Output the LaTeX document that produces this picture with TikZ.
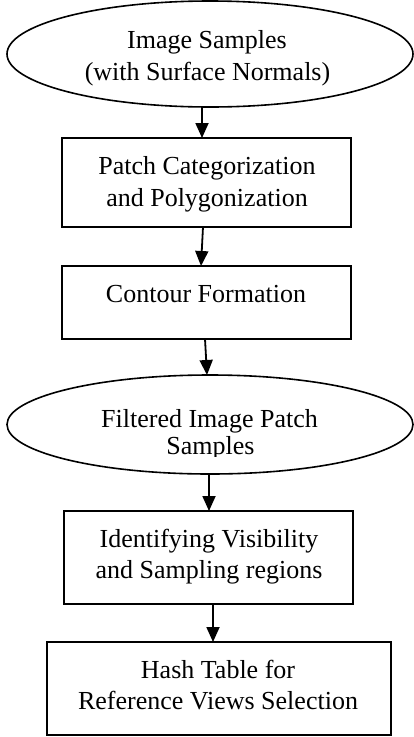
\documentclass[tikz,border=0pt]{standalone}
\usepackage{fontspec}
\setmainfont{Liberation Serif}
\usetikzlibrary{shapes.geometric,arrows.meta}

\tikzset{
  stage/.style={draw, line width=1.8pt, rectangle, inner sep=0pt, outer sep=0pt},
  datum/.style={draw, line width=1.6pt, ellipse, inner sep=0pt, outer sep=0pt},
  txt/.style={anchor=base, inner sep=0pt, font=\fontsize{26}{32}\selectfont},
  flow/.style={line width=1.8pt, -{Triangle[width=13pt,length=15pt]}}
}

\begin{document}
\begin{tikzpicture}[x=1pt, y=-1pt]
  \useasboundingbox (0,0) rectangle (414,737);

  % shapes of the pipeline
  \node[datum, minimum width=406pt, minimum height=106pt] (e1) at (210,54) {};
  \node[stage, minimum width=289pt, minimum height=89pt] (b1) at (206.5,182.5) {};
  \node[stage, minimum width=289pt, minimum height=73pt] (b2) at (206.5,302.5) {};
  \node[datum, minimum width=406pt, minimum height=99pt] (e2) at (210,424.5) {};
  \node[stage, minimum width=289pt, minimum height=93pt] (b3) at (208.5,557.5) {};
  \node[stage, minimum width=344pt, minimum height=93pt] (b4) at (219,688.5) {};

  % labels
  \node[txt] (e1a) at (207,48) {Image Samples};
  \node[txt] (e1b) at (207.5,80) {(with Surface Normals)};
  \node[txt] (b1a) at (207,174) {Patch Categorization};
  \node[txt] (b1b) at (207,206) {and Polygonization};
  \node[txt] (b2a) at (206,302) {Contour Formation};
  \begin{scope}
    \clip (7,380) rectangle (413,456);
    \node[txt] (e2a) at (209.5,427) {Filtered Image Patch};
    \node[txt] (e2b) at (210.5,454) {Samples};
  \end{scope}
  \node[txt] (b3a) at (209,547) {Identifying Visibility};
  \node[txt] (b3b) at (209,578) {and Sampling regions};
  \node[txt] (b4a) at (218,678) {Hash Table for};
  \node[txt] (b4b) at (218,709) {Reference Views Selection};

  % connectors
  \draw[flow] ([xshift=-8pt]e1.south) -- ([xshift=-4.5pt]b1.north);
  \draw[flow] ([xshift=-3.5pt]b1.south) -- ([xshift=-5.5pt]b2.north);
  \draw[flow] ([xshift=-1.5pt]b2.south) -- ([xshift=-3pt]e2.north);
  \draw[flow] ([xshift=-1pt]e2.south) -- ([xshift=0.5pt]b3.north);
  \draw[flow] ([xshift=4.5pt]b3.south) -- ([xshift=-6pt]b4.north);
\end{tikzpicture}
\end{document}
